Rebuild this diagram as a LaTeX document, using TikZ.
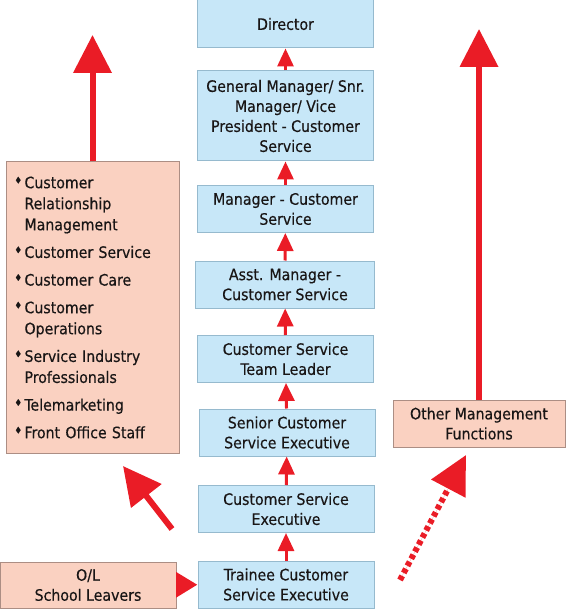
\documentclass[tikz,border=0pt]{standalone}
\usepackage{fontspec}
\setmainfont[FakeBold=0.35]{DejaVu Sans Condensed}
\usepackage{xcolor}
\usetikzlibrary{arrows.meta,positioning}

\newcommand{\bul}{\makebox[7.5pt][l]{\raisebox{3.5pt}{\fontsize{7}{7}\selectfont ♦}}}
\newcommand{\hang}{\hspace*{7.5pt}}

\tikzset{
  post/.style={fill={rgb, 255:red, 199; green, 231; blue, 248}, draw={rgb, 255:red, 150; green, 186; blue, 206}, line width=0.75,
    minimum width=132pt, minimum height=35.25pt, inner sep=2pt, align=center,
    font=\fontsize{11.8}{15}\selectfont, text={rgb, 255:red, 25; green, 22; blue, 22}},
  side/.style={post, fill={rgb, 255:red, 250; green, 209; blue, 193}, draw={rgb, 255:red, 172; green, 142; blue, 132}},
  uparrow/.style={draw={rgb, 255:red, 234; green, 28; blue, 38}, line width=2.25pt, -{Triangle[width=12pt,length=13.5pt]}},
  bigarrow/.style={draw={rgb, 255:red, 234; green, 28; blue, 38}, fill={rgb, 255:red, 234; green, 28; blue, 38}, line width=4.5pt, -{Triangle[width=28pt,length=28.5pt]}}
}

\begin{document}
\begin{tikzpicture}[x=0.75pt,y=0.75pt,yscale=-1,xscale=1]
\useasboundingbox (0,0) rectangle (565,609);

%Shape: Rectangle (career ladder)
\draw (285.5,24) node [post, minimum height=36pt] (dir) {Director};
\draw (285.5,116) node [post, minimum height=67.5pt] (gm) {General Manager/ Snr.\\Manager/ Vice\\President - Customer\\Service};
\draw (285.5,209) node [post] (mgr) {Manager - Customer\\Service};
\draw (285,284.5) node [post, minimum width=134pt] (asst) {Asst. Manager -\\Customer Service};
\draw (285.5,359) node [post] (lead) {Customer Service\\Team Leader};
\draw (287,432.5) node [post] (snr) {Senior Customer\\Service Executive};
\draw (286,509) node [post] (exec) {Customer Service\\Executive};
\draw (286,584.5) node [post] (trainee) {Trainee Customer\\Service Executive};

%Shape: Rectangle (side boxes)
\draw (92.5,307.5) node [side, minimum width=129.75pt, minimum height=218.25pt, text width=117pt, inner xsep=6pt, align=left,
  font=\fontsize{11.8}{15.75}\selectfont] (jobs) {\bul Customer\\\hang Relationship\\\hang Management\\[5pt]
  \bul Customer Service\\[5pt]\bul Customer Care\\[5pt]\bul Customer\\\hang Operations\\[5pt]
  \bul Service Industry\\\hang Professionals\\[5pt]\bul Telemarketing\\[5pt]\bul Front Office Staff};
\draw (479,423.5) node [side, minimum width=129pt] (other) {Other Management\\Functions};
\draw (88,585) node [side, minimum height=34.5pt] (school) {O/L\\School Leavers};

%Straight Lines (free ends)
\coordinate (jobstop) at (92.5,35);
\coordinate (othertop) at (479,29);
\coordinate (jumptail) at (172,529);
\coordinate (jumptip) at (123,466);
\coordinate (movetail) at (400,580);
\coordinate (movetip) at (466,455);

%Straight Lines (promotions)
\draw [uparrow] (gm) -- (dir);
\draw [uparrow] (mgr) -- (gm);
\draw [uparrow] (asst) -- (mgr);
\draw [uparrow] (lead) -- (asst);
\draw [uparrow] (snr) -- (lead);
\draw [uparrow] (exec) -- (snr);
\draw [uparrow] (trainee) -- (exec);
\draw [bigarrow, -{Triangle[width=18pt,length=16pt]}] (school) -- (trainee);

%Straight Lines (big arrows)
\draw [bigarrow] (jobs.north) -- (jobstop);
\draw [bigarrow] (other.north) -- (othertop);
\draw [bigarrow] (jumptail) -- (jumptip);
\draw [bigarrow, dash pattern={on 3.5pt off 2.5pt}] (movetail) -- (movetip);

\end{tikzpicture}
\end{document}
